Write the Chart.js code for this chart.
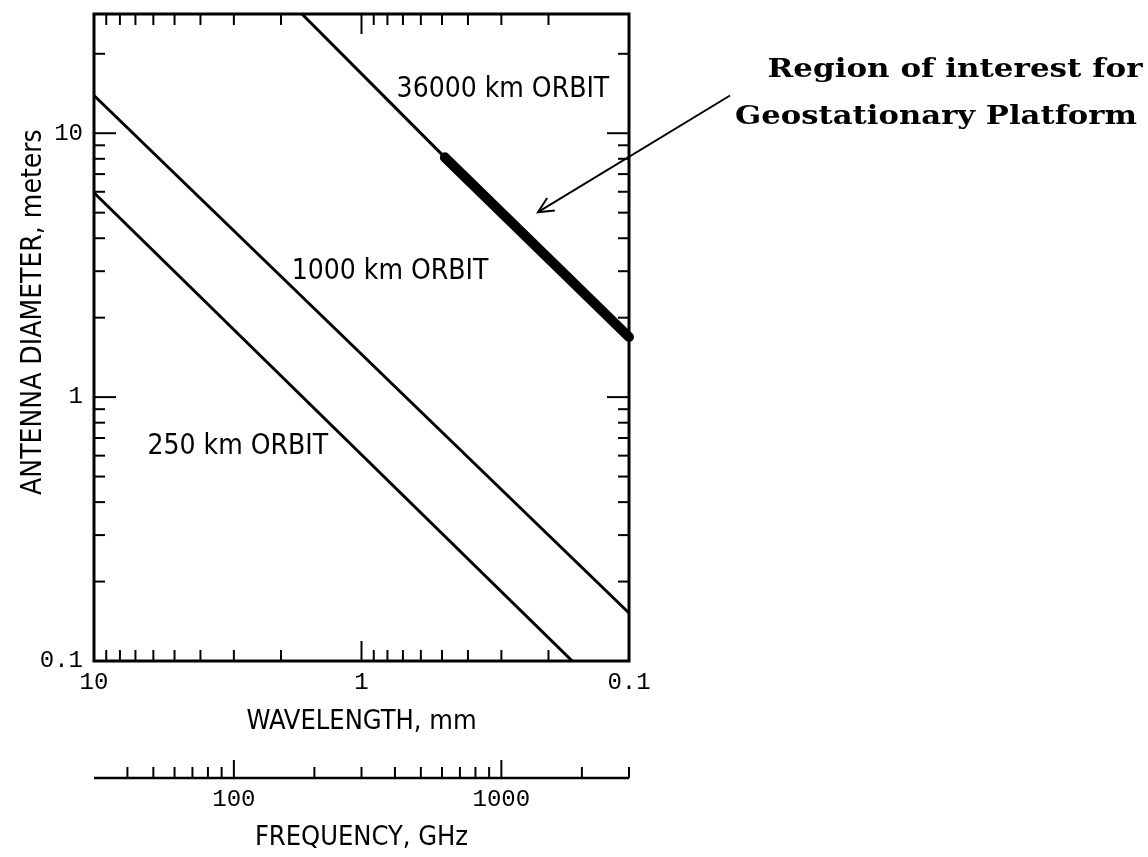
<!DOCTYPE html>
<html>
<head>
<meta charset="utf-8">
<title>Antenna diameter vs wavelength</title>
<script src="https://cdn.jsdelivr.net/npm/chart.js@4/dist/chart.umd.min.js"></script>
<style>
  html, body { margin: 0; padding: 0; background: #fff; }
  #wrap { width: 1148px; height: 857px; }
</style>
</head>
<body>
<div id="wrap"><canvas id="chart"></canvas></div>
<script>
// wavelength in mm (x), antenna diameter in m (y)
const orbit250 = [{x: 10, y: 5.95}, {x: 0.163, y: 0.1}];
const orbit1000 = [{x: 10, y: 13.9}, {x: 0.1, y: 0.152}];
const orbit36000 = [{x: 1.67, y: 28.3}, {x: 0.488, y: 8.1}];
const geoRegion = [{x: 0.488, y: 8.1}, {x: 0.1, y: 1.69}];

const wavelengthRange = [0.1, 10];
const diameterRange = [0.1, 28.3];
const frequencyRange = [30, 3000];   // GHz, same span as 10 .. 0.1 mm

const wavelengthTicks = [10, 1, 0.1];
const diameterTicks = [10, 1, 0.1];
const frequencyTicks = [100, 1000];

// curve labels, anchored in data units (wavelength, diameter)
const orbitLabels = [
  {text: "36000 km ORBIT", x: 0.296, y: 14.6},
  {text: "1000 km ORBIT", x: 0.782, y: 2.98},
  {text: "250 km ORBIT", x: 2.90, y: 0.647}
];
// arrow from the note to the thick segment
const arrowFrom = {x: 0.0419, y: 13.9};
const arrowTo = {x: 0.219, y: 5.02};

const sans = "'DejaVu Sans Condensed', 'DejaVu Sans', sans-serif";
const mono = "'Liberation Mono', 'DejaVu Sans Mono', monospace";

const near = (a, b) => Math.abs(a - b) <= 1e-6 * b;
const isDecade = v => Math.abs(Math.log10(v) - Math.round(Math.log10(v))) < 1e-6;
const isWhole = v => {
  const s = v / Math.pow(10, Math.floor(Math.log10(v) + 1e-9));
  return Math.abs(s - Math.round(s)) < 1e-6;
};

function seg(ctx, x1, y1, x2, y2) {
  ctx.beginPath();
  ctx.moveTo(x1, y1);
  ctx.lineTo(x2, y2);
  ctx.stroke();
}

// draw text centred on cx, stretched to a given width
function fitText(ctx, text, cx, baseline, width) {
  const w = ctx.measureText(text).width;
  ctx.save();
  ctx.translate(cx, baseline);
  ctx.scale(width / w, 1);
  ctx.textAlign = "center";
  ctx.fillText(text, 0, 0);
  ctx.restore();
}

const decorations = {
  id: "decorations",
  afterDatasetsDraw(chart) {
    const {ctx, chartArea: a, scales} = chart;
    const x = scales.x, y = scales.y, f = scales.freq;
    ctx.save();
    ctx.strokeStyle = "#000";
    ctx.fillStyle = "#000";
    ctx.lineCap = "butt";

    // inward tick marks on all four sides
    ctx.lineWidth = 2;
    x.ticks.forEach(t => {
      if (near(t.value, x.min) || near(t.value, x.max) || !isWhole(t.value)) return;
      const px = x.getPixelForValue(t.value);
      const len = isDecade(t.value) ? 20 : 11;
      seg(ctx, px, a.bottom, px, a.bottom - len);
      seg(ctx, px, a.top, px, a.top + len);
    });
    y.ticks.forEach(t => {
      if (near(t.value, y.min) || !isWhole(t.value)) return;
      const py = y.getPixelForValue(t.value);
      const len = isDecade(t.value) ? 22 : 11;
      seg(ctx, a.left, py, a.left + len, py);
      seg(ctx, a.right, py, a.right - len, py);
    });

    // frame
    ctx.lineWidth = 3;
    ctx.strokeRect(a.left, a.top, a.right - a.left, a.bottom - a.top);

    // frequency scale: baseline with upward ticks
    ctx.lineWidth = 2.5;
    seg(ctx, f.left, f.top, f.right, f.top);
    ctx.lineWidth = 2;
    f.ticks.forEach(t => {
      if (near(t.value, f.min) || !isWhole(t.value)) return;
      const px = f.getPixelForValue(t.value);
      const len = isDecade(t.value) ? 18 : 11;
      seg(ctx, px, f.top, px, f.top - len);
    });

    // y axis title
    ctx.save();
    ctx.font = "28px " + sans;
    ctx.textAlign = "center";
    ctx.textBaseline = "middle";
    ctx.translate(34, y.getPixelForValue(2.1));
    ctx.rotate(-Math.PI / 2);
    ctx.fillText("ANTENNA DIAMETER, meters", 0, 0);
    ctx.restore();

    // curve labels
    ctx.font = "28px " + sans;
    ctx.textAlign = "center";
    ctx.textBaseline = "middle";
    orbitLabels.forEach(l => {
      ctx.fillText(l.text, x.getPixelForValue(l.x), y.getPixelForValue(l.y));
    });

    // arrow
    const x1 = x.getPixelForValue(arrowFrom.x), y1 = y.getPixelForValue(arrowFrom.y);
    const x2 = x.getPixelForValue(arrowTo.x), y2 = y.getPixelForValue(arrowTo.y);
    ctx.lineWidth = 2;
    seg(ctx, x1, y1, x2, y2);
    const ang = Math.atan2(y2 - y1, x2 - x1);
    const head = 17, spread = 0.45;
    ctx.beginPath();
    ctx.moveTo(x2 - head * Math.cos(ang - spread), y2 - head * Math.sin(ang - spread));
    ctx.lineTo(x2, y2);
    ctx.lineTo(x2 - head * Math.cos(ang + spread), y2 - head * Math.sin(ang + spread));
    ctx.stroke();

    // note
    ctx.font = "bold 26px 'DejaVu Serif', serif";
    ctx.textBaseline = "alphabetic";
    fitText(ctx, "Region of interest for", 955, 77, 375);
    fitText(ctx, "Geostationary Platform", 936, 124, 402);
    ctx.restore();
  }
};

const lineStyle = {borderColor: "#000", pointRadius: 0, tension: 0, fill: false};

new Chart(document.getElementById("chart"), {
  type: "line",
  data: {
    datasets: [
      {...lineStyle, label: "250 km ORBIT", data: orbit250, borderWidth: 3},
      {...lineStyle, label: "1000 km ORBIT", data: orbit1000, borderWidth: 3},
      {...lineStyle, label: "36000 km ORBIT", data: orbit36000, borderWidth: 3},
      {...lineStyle, label: "Geostationary platform", data: geoRegion, borderWidth: 10,
       borderCapStyle: "round", clip: false}
    ]
  },
  options: {
    responsive: true,
    maintainAspectRatio: false,
    animation: false,
    events: [],
    layout: {padding: {top: 14, right: 519, bottom: 0, left: 0}},
    plugins: {legend: {display: false}, tooltip: {enabled: false}},
    scales: {
      x: {
        type: "logarithmic",
        position: "bottom",
        reverse: true,
        min: wavelengthRange[0],
        max: wavelengthRange[1],
        weight: 0,
        afterFit: s => { s.height = 117; },
        grid: {display: false, drawTicks: false},
        border: {display: false},
        ticks: {
          autoSkip: false, maxRotation: 0, padding: 7, color: "#000",
          font: {family: mono, size: 24},
          callback: v => wavelengthTicks.some(t => near(v, t)) ? String(v) : ""
        },
        title: {display: true, text: "WAVELENGTH, mm", color: "#000",
                font: {family: sans, size: 27}, padding: {top: 0, bottom: 40}}
      },
      freq: {
        type: "logarithmic",
        axis: "x",
        position: "bottom",
        min: frequencyRange[0],
        max: frequencyRange[1],
        weight: 1,
        afterFit: s => { s.height = 79; },
        grid: {display: false, drawTicks: false},
        border: {display: false},
        ticks: {
          autoSkip: false, maxRotation: 0, padding: 7, color: "#000",
          font: {family: mono, size: 24},
          callback: v => frequencyTicks.some(t => near(v, t)) ? String(v) : ""
        },
        title: {display: true, text: "FREQUENCY, GHz", color: "#000",
                font: {family: sans, size: 27}, padding: {top: 0, bottom: 3}}
      },
      y: {
        type: "logarithmic",
        min: diameterRange[0],
        max: diameterRange[1],
        afterFit: s => { s.width = 94; s.paddingTop = 0; s.paddingBottom = 0; },
        grid: {display: false, drawTicks: false},
        border: {display: false},
        ticks: {
          autoSkip: false, padding: 11, color: "#000",
          font: {family: mono, size: 24},
          callback: v => diameterTicks.some(t => near(v, t)) ? String(v) : ""
        },
        title: {display: false}
      }
    }
  },
  plugins: [decorations]
});
</script>
</body>
</html>
